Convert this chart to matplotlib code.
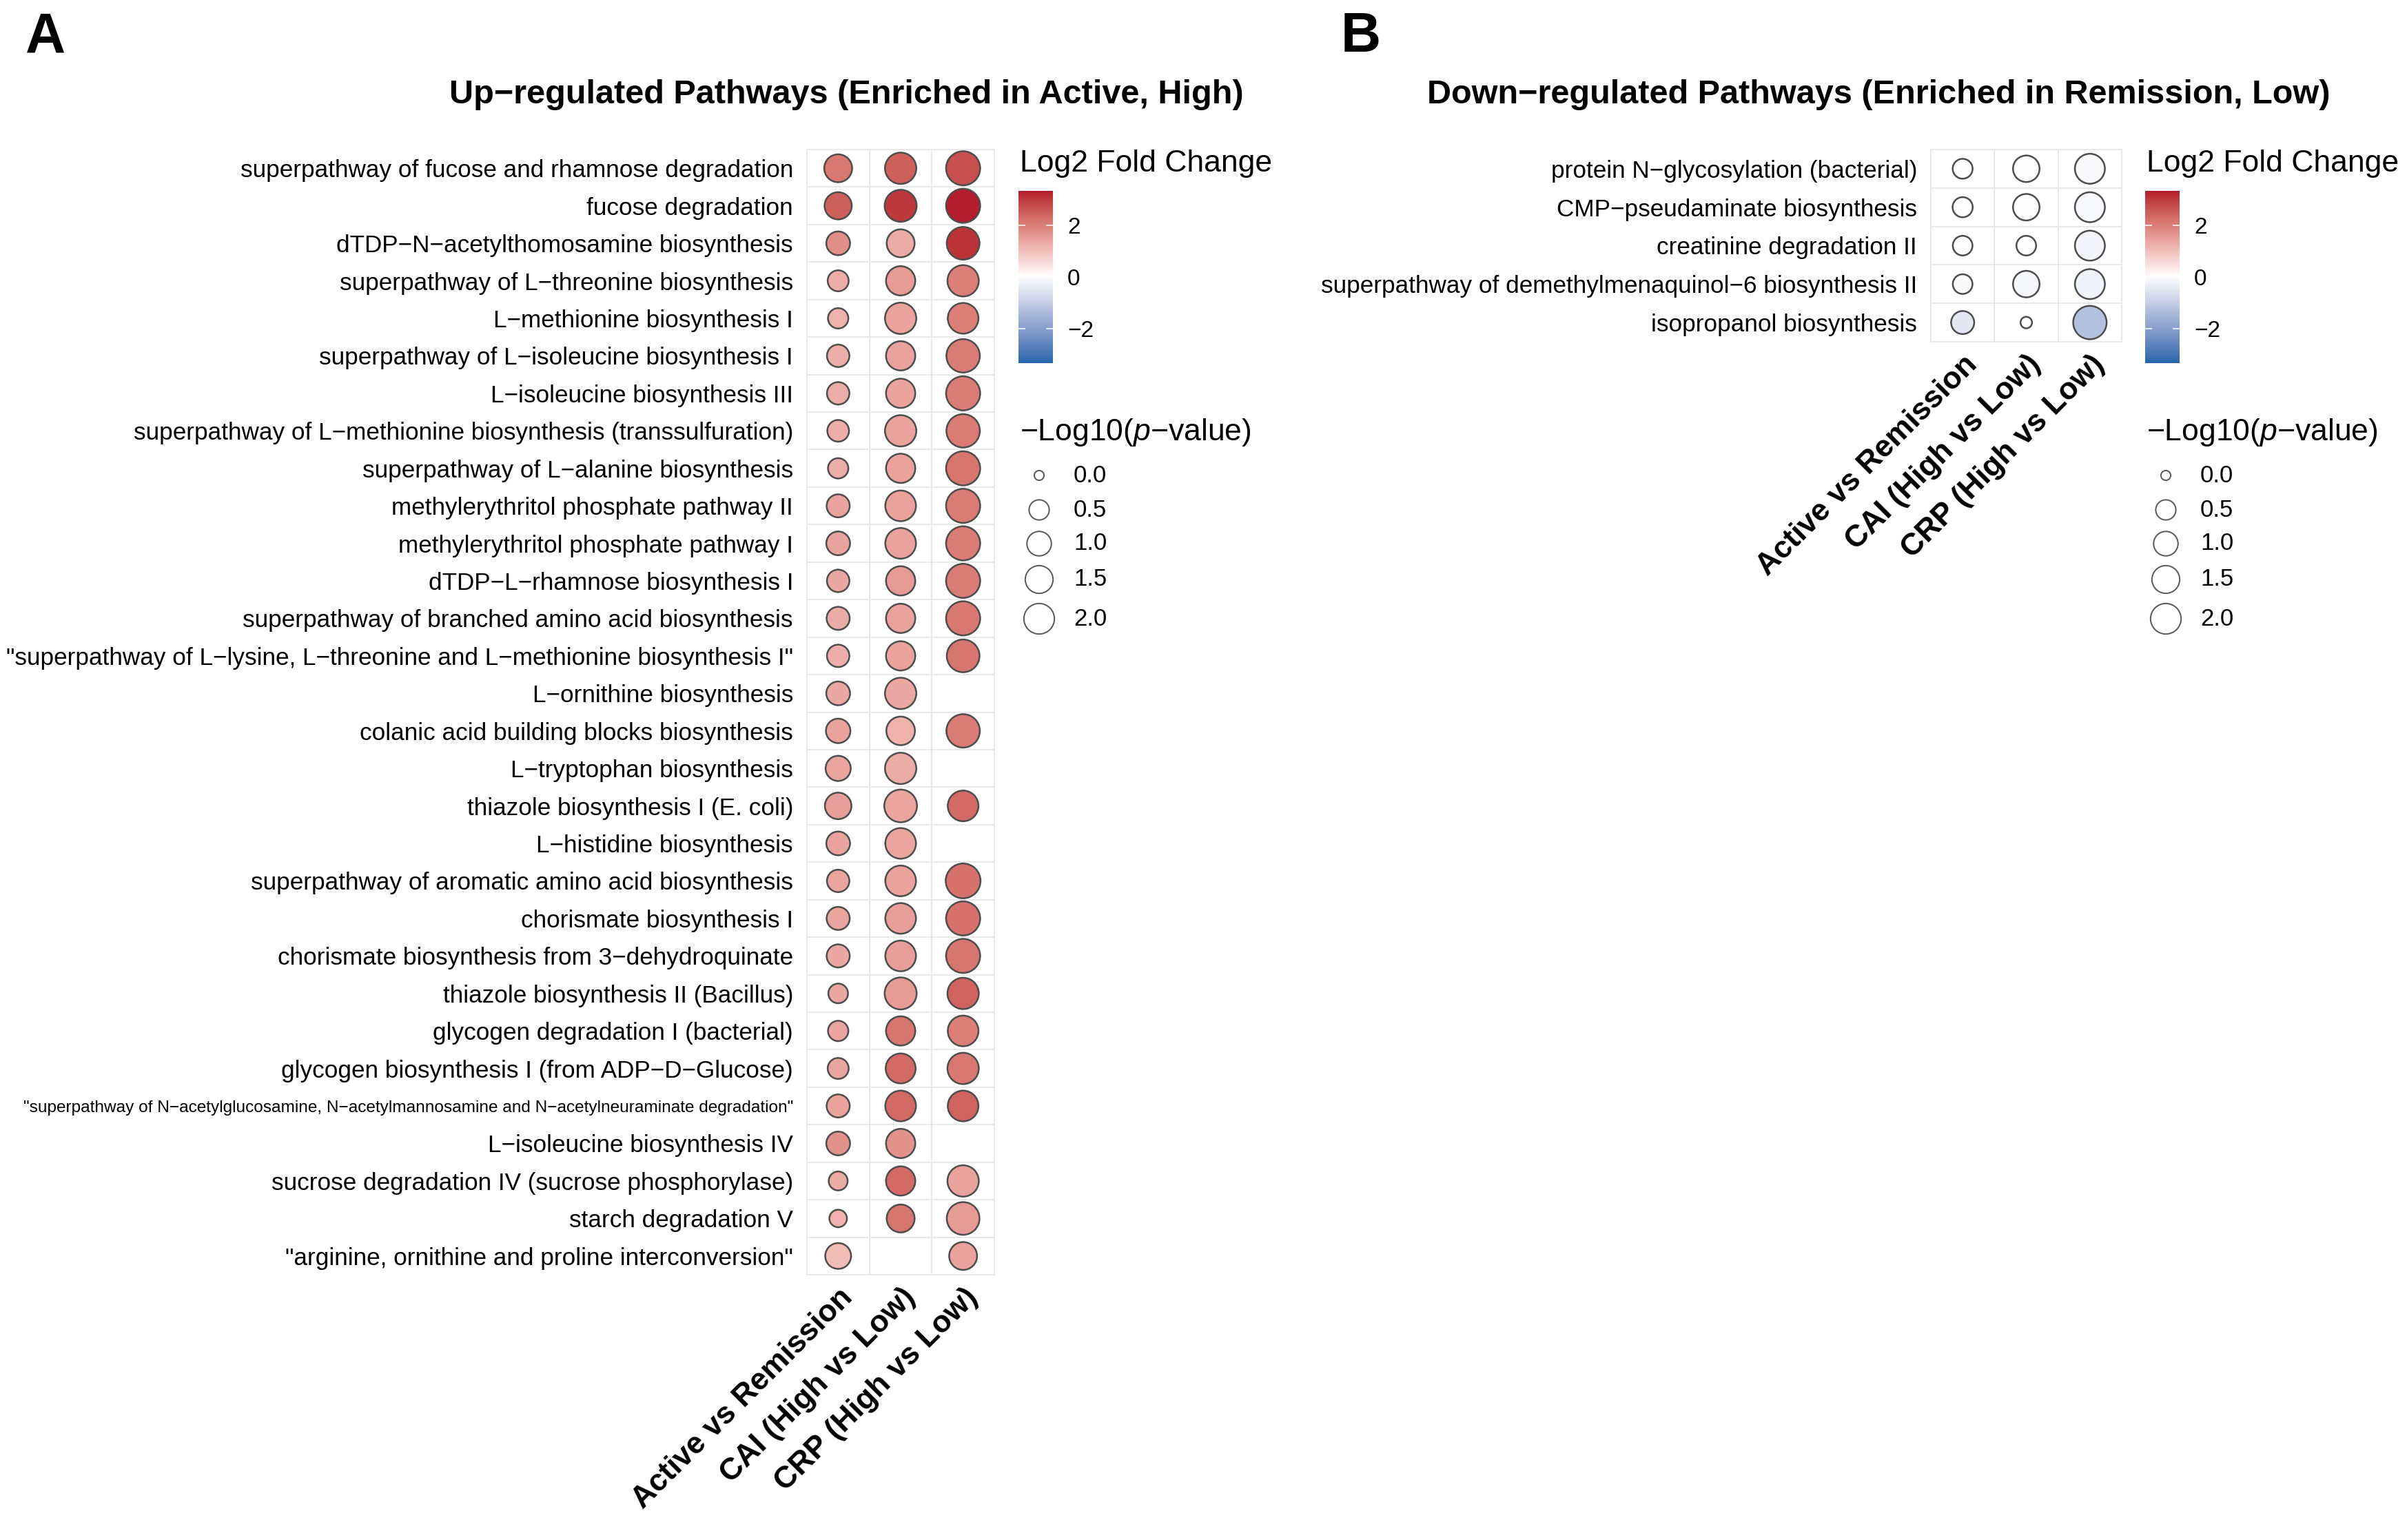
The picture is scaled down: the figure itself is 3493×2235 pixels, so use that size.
import numpy as np
import matplotlib
matplotlib.use('Agg')
import matplotlib.pyplot as plt
from matplotlib.colors import ListedColormap, Normalize

plt.rcParams['font.family'] = ['Liberation Sans', 'DejaVu Sans']
plt.rcParams['mathtext.fontset'] = 'custom'
plt.rcParams['mathtext.rm'] = 'Liberation Sans'
plt.rcParams['mathtext.it'] = 'Liberation Sans:italic'

W, H = 3493, 2235
DPI = 100
PT = 72 / DPI  # points per pixel

comparisons = ['Active vs Remission', 'CAI (High vs Low)', 'CRP (High vs Low)']

up_pathways = [
    'superpathway of fucose and rhamnose degradation',
    'fucose degradation',
    'dTDP-N-acetylthomosamine biosynthesis',
    'superpathway of L-threonine biosynthesis',
    'L-methionine biosynthesis I',
    'superpathway of L-isoleucine biosynthesis I',
    'L-isoleucine biosynthesis III',
    'superpathway of L-methionine biosynthesis (transsulfuration)',
    'superpathway of L-alanine biosynthesis',
    'methylerythritol phosphate pathway II',
    'methylerythritol phosphate pathway I',
    'dTDP-L-rhamnose biosynthesis I',
    'superpathway of branched amino acid biosynthesis',
    '"superpathway of L-lysine, L-threonine and L-methionine biosynthesis I"',
    'L-ornithine biosynthesis',
    'colanic acid building blocks biosynthesis',
    'L-tryptophan biosynthesis',
    'thiazole biosynthesis I (E. coli)',
    'L-histidine biosynthesis',
    'superpathway of aromatic amino acid biosynthesis',
    'chorismate biosynthesis I',
    'chorismate biosynthesis from 3-dehydroquinate',
    'thiazole biosynthesis II (Bacillus)',
    'glycogen degradation I (bacterial)',
    'glycogen biosynthesis I (from ADP-D-Glucose)',
    '"superpathway of N-acetylglucosamine, N-acetylmannosamine and N-acetylneuraminate degradation"',
    'L-isoleucine biosynthesis IV',
    'sucrose degradation IV (sucrose phosphorylase)',
    'starch degradation V',
    '"arginine, ornithine and proline interconversion"',
]
nan = np.nan
# log2 fold change per comparison
up_lfc_active = [2.10, 2.45, 1.75, 1.25, 1.20, 1.25, 1.25, 1.25, 1.25, 1.45,
                 1.45, 1.35, 1.30, 1.25, 1.35, 1.45, 1.40, 1.50, 1.45, 1.40,
                 1.40, 1.35, 1.35, 1.40, 1.40, 1.45, 1.70, 1.30, 1.20, 1.05]
up_lfc_cai = [2.45, 3.00, 1.30, 1.55, 1.45, 1.45, 1.45, 1.45, 1.45, 1.45,
              1.45, 1.55, 1.45, 1.45, 1.35, 1.20, 1.30, 1.40, 1.40, 1.45,
              1.50, 1.50, 1.55, 2.15, 2.30, 2.30, 1.70, 2.30, 2.15, nan]
up_lfc_crp = [2.70, 3.30, 3.05, 2.00, 2.00, 2.05, 2.05, 2.05, 2.15, 2.05,
              2.05, 2.05, 2.10, 2.15, nan, 2.05, nan, 2.30, nan, 2.20,
              2.20, 2.15, 2.40, 2.00, 2.10, 2.40, nan, 1.45, 1.55, 1.45]
# -log10(p-value) per comparison
up_logp_active = [1.41, 1.30, 0.83, 0.53, 0.47, 0.68, 0.68, 0.60, 0.47, 0.75,
                  0.83, 0.68, 0.75, 0.68, 0.83, 0.92, 1.01, 1.20, 0.83, 0.68,
                  0.75, 0.75, 0.41, 0.47, 0.53, 0.75, 0.83, 0.35, 0.25, 1.10]
up_logp_cai = [2.00, 2.13, 1.41, 1.63, 2.00, 1.63, 1.63, 2.00, 1.63, 1.88,
               1.88, 1.63, 1.63, 1.63, 2.00, 1.52, 2.00, 2.27, 1.88, 1.88,
               1.88, 1.88, 2.13, 1.63, 1.75, 1.88, 1.63, 1.63, 1.41, nan]
up_logp_crp = [2.55, 2.55, 2.27, 2.00, 1.88, 2.41, 2.55, 2.41, 2.55, 2.55,
               2.55, 2.55, 2.55, 2.27, nan, 2.41, nan, 1.88, nan, 2.70,
               2.55, 2.55, 2.00, 1.88, 2.00, 1.88, nan, 2.00, 2.27, 1.41]

down_pathways = [
    'protein N-glycosylation (bacterial)',
    'CMP-pseudaminate biosynthesis',
    'creatinine degradation II',
    'superpathway of demethylmenaquinol-6 biosynthesis II',
    'isopropanol biosynthesis',
]
down_lfc_active = [0.00, 0.00, 0.00, -0.08, -0.45]
down_lfc_cai = [-0.03, -0.05, 0.00, -0.18, 0.00]
down_lfc_crp = [-0.10, -0.15, -0.20, -0.25, -1.30]
down_logp_active = [0.43, 0.45, 0.41, 0.41, 0.75]
down_logp_cai = [1.20, 1.20, 0.41, 1.20, 0.01]
down_logp_crp = [1.75, 1.75, 1.75, 1.75, 2.41]

size_breaks = [0.0, 0.5, 1.0, 1.5, 2.0]
lfc_limit = 3.33


def to_lab(rgb):
    c = np.asarray(rgb, float)
    lin = np.where(c <= 0.04045, c / 12.92, ((c + 0.055) / 1.055) ** 2.4)
    M = np.array([[0.4124, 0.3576, 0.1805], [0.2126, 0.7152, 0.0722], [0.0193, 0.1192, 0.9505]])
    xyz = M @ lin / np.array([0.95047, 1.0, 1.08883])
    f = np.where(xyz > 0.008856, np.cbrt(xyz), 7.787 * xyz + 16 / 116)
    return np.array([116 * f[1] - 16, 500 * (f[0] - f[1]), 200 * (f[1] - f[2])])


def from_lab(lab):
    L, a, b = lab
    fy = (L + 16) / 116
    f = np.array([fy + a / 500, fy, fy - b / 200])
    t = np.where(f ** 3 > 0.008856, f ** 3, (f - 16 / 116) / 7.787)
    xyz = t * np.array([0.95047, 1.0, 1.08883])
    Minv = np.linalg.inv(np.array([[0.4124, 0.3576, 0.1805], [0.2126, 0.7152, 0.0722], [0.0193, 0.1192, 0.9505]]))
    lin = Minv @ xyz
    s = np.where(lin <= 0.0031308, 12.92 * lin, 1.055 * np.abs(lin) ** (1 / 2.4) - 0.055)
    return np.clip(s, 0, 1)


# gradient2-like palette, interpolated in Lab space
low = to_lab(matplotlib.colors.to_rgb('#2166AC'))
mid = to_lab((1, 1, 1))
high = to_lab(matplotlib.colors.to_rgb('#B2182B'))
cols = []
for v in np.linspace(-1, 1, 256):
    end = low if v < 0 else high
    cols.append(from_lab(mid + (end - mid) * abs(v)))
cmap = ListedColormap(cols)
norm = Normalize(-lfc_limit, lfc_limit)

EDGE_PX = 2.5


def size_of(v):
    d = 17 + 21.9 * np.sqrt(np.asarray(v, float)) - EDGE_PX
    return (d * PT) ** 2


fig = plt.figure(figsize=(W / DPI, H / DPI), dpi=DPI)


def px_box(x0, y0, x1, y1):
    return [x0 / W, 1 - y1 / H, (x1 - x0) / W, (y1 - y0) / H]


def draw_panel(box, labels, lfc_cols, logp_cols):
    ax = fig.add_axes(px_box(*box))
    n = len(labels)
    for j, (lfc, lp) in enumerate(zip(lfc_cols, logp_cols)):
        lfc = np.array(lfc, float)
        lp = np.array(lp, float)
        ok = ~np.isnan(lfc)
        rows = np.arange(n)[ok]
        ax.scatter(np.full(len(rows), j), rows, s=size_of(lp[ok]), c=lfc[ok],
                   cmap=cmap, norm=norm, edgecolors='#4d4d4d',
                   linewidths=EDGE_PX * PT, zorder=3)
    ax.set_xlim(-0.5, 2.5)
    ax.set_ylim(n - 0.5, -0.5)
    for k in range(n + 1):
        ax.axhline(k - 0.5, color='#e8e8e8', lw=2 * PT, zorder=1, clip_on=False)
    for k in range(4):
        ax.axvline(k - 0.5, color='#e8e8e8', lw=2 * PT, zorder=1, clip_on=False)
    for sp in ax.spines.values():
        sp.set_visible(False)
    ax.set_yticks(range(n))
    ax.set_yticklabels([l.replace('-', '\u2212') for l in labels], fontsize=25.3)
    for tl in ax.get_yticklabels():
        if len(tl.get_text()) > 80:
            tl.set_fontsize(17.6)
    ax.set_xticks(range(3))
    ax.set_xticklabels(comparisons, fontsize=32, fontweight='bold', rotation=45,
                       ha='right', va='top', rotation_mode='anchor')
    ax.tick_params(axis='y', length=0, pad=20 * PT)
    ax.tick_params(axis='x', length=0, pad=12 * PT)
    return ax


def draw_legend(x_left, overlay):
    fig.text((x_left + 2) / W, 1 - 238 / H, 'Log2 Fold Change', fontsize=32,
             va='center', ha='left')
    cax = fig.add_axes(px_box(x_left, 277, x_left + 50, 527))
    grad = np.linspace(-lfc_limit, lfc_limit, 256)[:, None]
    cax.imshow(grad, aspect='auto', cmap=cmap, norm=norm, origin='lower',
               extent=[0, 1, -lfc_limit, lfc_limit])
    cax.hlines([-2, 0, 2], 0.0, 0.2, color='white', lw=1.5 * PT)
    cax.hlines([-2, 0, 2], 0.8, 1.0, color='white', lw=1.5 * PT)
    cax.set_xticks([])
    cax.yaxis.tick_right()
    cax.set_yticks([-2, 0, 2])
    cax.set_yticklabels(['\u22122', '0', '2'], fontsize=24)
    cax.tick_params(axis='y', length=0, pad=21 * PT)
    for sp in cax.spines.values():
        sp.set_visible(False)
    fig.text((x_left + 2) / W, 1 - 628 / H, '\u2212Log10($\\it{p}$\u2212value)',
             fontsize=32, va='center', ha='left')
    key_y = [690, 740, 789, 841, 898]
    overlay.scatter([x_left + 30] * len(size_breaks), key_y, s=size_of(size_breaks) * 0.95,
                    facecolors='white', edgecolors='#5a5a5a', linewidths=2 * PT)
    for yy, b in zip(key_y, size_breaks):
        overlay.text(x_left + 80, yy, f'{b:.1f}', fontsize=25, va='center', ha='left')


draw_panel((1171, 217, 1443, 1850), up_pathways,
           [up_lfc_active, up_lfc_cai, up_lfc_crp],
           [up_logp_active, up_logp_cai, up_logp_crp])
draw_panel((2802, 217, 3079, 496), down_pathways,
           [down_lfc_active, down_lfc_cai, down_lfc_crp],
           [down_logp_active, down_logp_cai, down_logp_crp])

overlay = fig.add_axes([0, 0, 1, 1])
overlay.set_xlim(0, W)
overlay.set_ylim(H, 0)
overlay.axis('off')
overlay.patch.set_alpha(0)

draw_legend(1478, overlay)
draw_legend(3113, overlay)

fig.text(37 / W, 1 - 54 / H, 'A', fontsize=58, fontweight='bold', va='center', ha='left')
fig.text(1946 / W, 1 - 54 / H, 'B', fontsize=58, fontweight='bold', va='center', ha='left')
fig.text(1228 / W, 1 - 137 / H, 'Up\u2212regulated Pathways (Enriched in Active, High)',
         fontsize=35, fontweight='bold', va='center', ha='center')
fig.text(2726 / W, 1 - 137 / H, 'Down\u2212regulated Pathways (Enriched in Remission, Low)',
         fontsize=35, fontweight='bold', va='center', ha='center')

fig.savefig('out.png', dpi=DPI, facecolor='white')
